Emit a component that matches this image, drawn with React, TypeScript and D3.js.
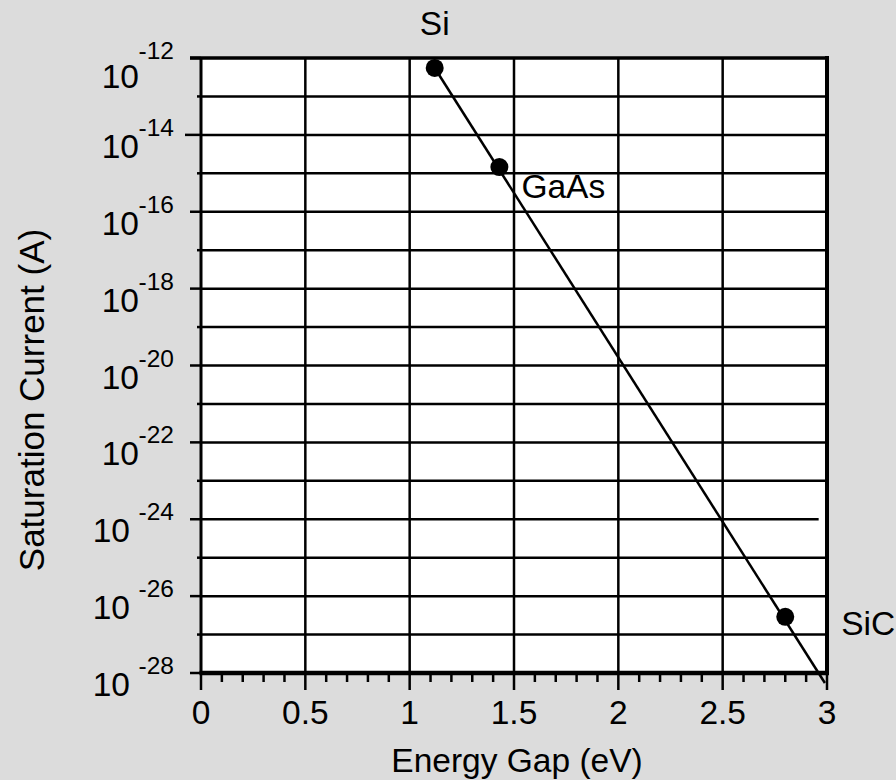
import React, { useRef, useEffect } from 'react';
import * as d3 from 'd3';

// semiconductor points
const materials = ['Si', 'GaAs', 'SiC'];
const energyGap = [1.12, 1.43, 2.8];
const satCurrent = [5.5e-13, 1.45e-15, 2.9e-27];

// fitted line endpoints
const fitGap = [1.12, 2.99];
const fitCurrent = [5.5e-13, 5.5e-29];

const xTicks = [0, 0.5, 1, 1.5, 2, 2.5, 3];
const xTickLabels = ['0', '0.5', '1', '1.5', '2', '2.5', '3'];
const yLabelExponents = [-12, -14, -16, -18, -20, -22, -24, -26, -28];

const App = () => {
  const ref = useRef<SVGSVGElement>(null);

  useEffect(() => {
    const width = 896;
    const height = 780;
    const left = 201;
    const right = 827;
    const top = 58;
    const bottom = 673;
    const font = '"Liberation Sans", Arial, sans-serif';
    const fs = '33.5px';

    const svg = d3.select(ref.current);
    svg.selectAll('*').remove();

    svg.append('rect')
      .attr('width', width)
      .attr('height', height)
      .attr('fill', '#dcdcdc');

    const x = d3.scaleLinear().domain([0, 3]).range([left, right]);
    const y = d3.scaleLog().domain([1e-12, 1e-28]).range([top, bottom]);

    // plot area
    svg.append('rect')
      .attr('x', left)
      .attr('y', top)
      .attr('width', right - left)
      .attr('height', bottom - top)
      .attr('fill', '#fff');

    // horizontal grid, one per decade
    const decades = d3.range(-12, -29, -1);
    svg.append('g').selectAll('line')
      .data(decades.slice(1, -1))
      .enter().append('line')
      .attr('x1', left)
      .attr('x2', (d) => (d === -24 ? x(2.96) : right))
      .attr('y1', (d) => y(Math.pow(10, d)))
      .attr('y2', (d) => y(Math.pow(10, d)))
      .attr('stroke', '#000')
      .attr('stroke-width', 2.5);

    // vertical grid
    svg.append('g').selectAll('line')
      .data(xTicks.slice(1, -1))
      .enter().append('line')
      .attr('x1', (d) => x(d))
      .attr('x2', (d) => x(d))
      .attr('y1', top)
      .attr('y2', bottom)
      .attr('stroke', '#000')
      .attr('stroke-width', 2.5);

    // y ticks: long on labelled decades, short otherwise
    svg.append('g').selectAll('line')
      .data(decades)
      .enter().append('line')
      .attr('x1', (d) => (d % 2 === 0 ? (d === -14 ? left - 16 : left - 11) : left - 4))
      .attr('x2', left)
      .attr('y1', (d) => y(Math.pow(10, d)))
      .attr('y2', (d) => y(Math.pow(10, d)))
      .attr('stroke', '#000')
      .attr('stroke-width', 2.5);

    // x ticks
    const minor = d3.range(0, 31).map((i) => i / 10);
    svg.append('g').selectAll('line')
      .data(minor)
      .enter().append('line')
      .attr('x1', (d) => x(d))
      .attr('x2', (d) => x(d))
      .attr('y1', bottom)
      .attr('y2', (d) => (Math.round(d * 10) % 5 === 0 ? bottom + 17 : bottom + 9))
      .attr('stroke', '#000')
      .attr('stroke-width', 2.5);

    // frame
    svg.append('line')
      .attr('x1', left).attr('x2', left)
      .attr('y1', top).attr('y2', bottom)
      .attr('stroke', '#000').attr('stroke-width', 3);
    svg.append('line')
      .attr('x1', left - 11).attr('x2', right + 2)
      .attr('y1', top).attr('y2', top)
      .attr('stroke', '#000').attr('stroke-width', 3.5);
    svg.append('line')
      .attr('x1', right).attr('x2', right)
      .attr('y1', top - 2).attr('y2', bottom + 2)
      .attr('stroke', '#000').attr('stroke-width', 4);
    svg.append('line')
      .attr('x1', left - 1.5).attr('x2', right + 2)
      .attr('y1', bottom).attr('y2', bottom)
      .attr('stroke', '#000').attr('stroke-width', 4.5);

    // fit line
    const line = d3.line<number>()
      .x((d) => x(fitGap[d]))
      .y((d) => y(fitCurrent[d]));
    svg.append('path')
      .attr('d', line([0, 1]))
      .attr('fill', 'none')
      .attr('stroke', '#000')
      .attr('stroke-width', 2.5);

    // points
    svg.append('g').selectAll('circle')
      .data(materials)
      .enter().append('circle')
      .attr('cx', (d, i) => x(energyGap[i]))
      .attr('cy', (d, i) => y(satCurrent[i]))
      .attr('r', 9)
      .attr('fill', '#000');

    const labelOffset: Record<string, [number, number, string]> = {
      Si: [0, -33, 'middle'],
      GaAs: [22, 31, 'start'],
      SiC: [56, 18, 'start'],
    };
    svg.append('g').selectAll('text')
      .data(materials)
      .enter().append('text')
      .attr('x', (d, i) => x(energyGap[i]) + labelOffset[d][0])
      .attr('y', (d, i) => y(satCurrent[i]) + labelOffset[d][1])
      .attr('text-anchor', (d) => labelOffset[d][2])
      .style('font-family', font)
      .style('font-size', fs)
      .text((d) => d);

    // x tick labels
    svg.append('g').selectAll('text')
      .data(xTicks)
      .enter().append('text')
      .attr('x', (d) => x(d))
      .attr('y', 724)
      .attr('text-anchor', 'middle')
      .style('font-family', font)
      .style('font-size', fs)
      .text((d, i) => xTickLabels[i]);

    // y tick labels: 10 with exponent
    const yl = svg.append('g').selectAll('g')
      .data(yLabelExponents)
      .enter().append('g');
    yl.append('text')
      .attr('x', (d) => (d <= -24 ? 130 : 139))
      .attr('y', (d) => y(Math.pow(10, d)) + (d === -12 ? 30 : 23))
      .attr('text-anchor', 'end')
      .style('font-family', font)
      .style('font-size', fs)
      .text('10');
    yl.append('text')
      .attr('x', 174)
      .attr('y', (d) => y(Math.pow(10, d)) + 1)
      .attr('text-anchor', 'end')
      .style('font-family', font)
      .style('font-size', '24.5px')
      .text((d) => `${d}`);

    // axis titles
    svg.append('text')
      .attr('x', (left + right) / 2 + 3)
      .attr('y', 772)
      .attr('text-anchor', 'middle')
      .style('font-family', font)
      .style('font-size', fs)
      .text('Energy Gap (eV)');
    svg.append('text')
      .attr('transform', 'translate(44, 400) rotate(-90)')
      .attr('text-anchor', 'middle')
      .style('font-family', font)
      .style('font-size', '35px')
      .text('Saturation Current (A)');
  }, []);

  return (
    <svg
      ref={ref}
      width={896}
      height={780}
      style={{ position: 'absolute', left: 0, top: 0, display: 'block' }}
    />
  );
};

export default App;
